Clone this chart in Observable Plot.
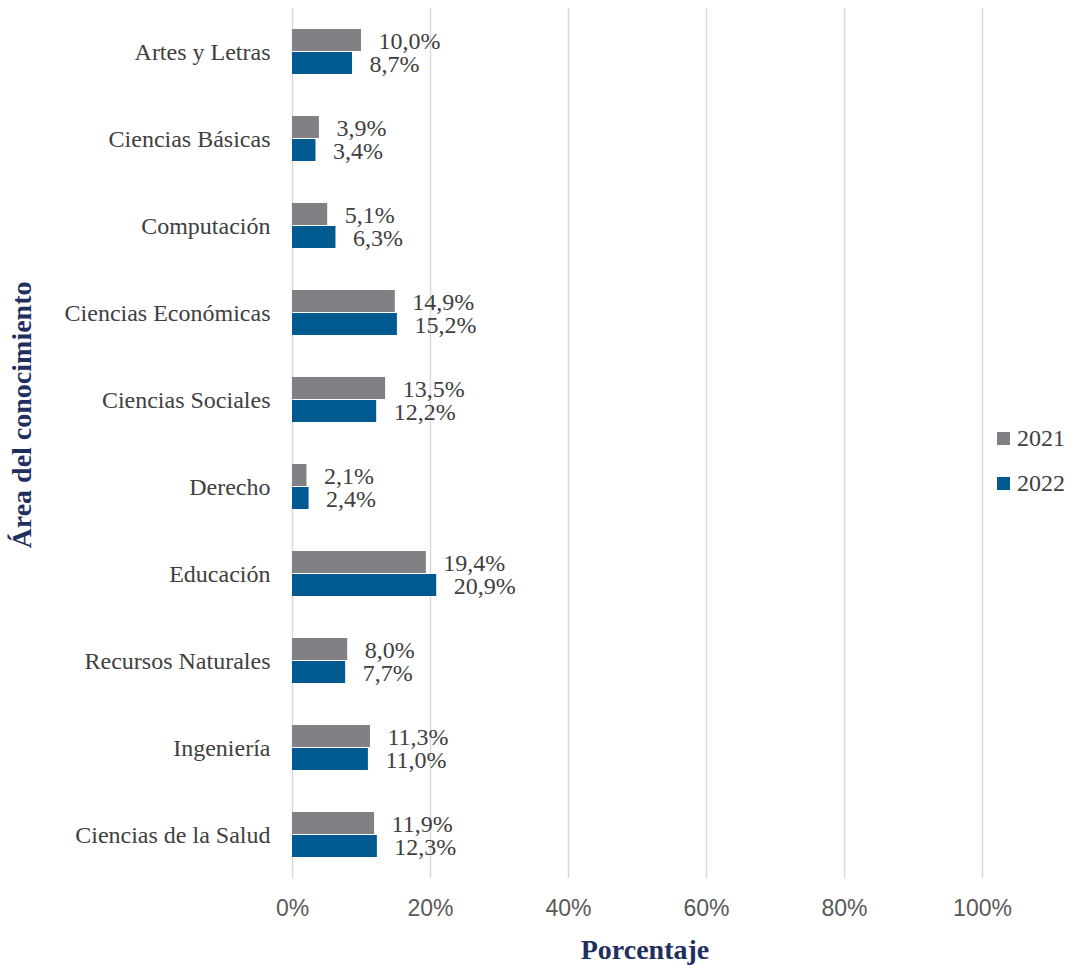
<!DOCTYPE html>
<html>
<head>
<meta charset="utf-8">
<script src="https://cdn.jsdelivr.net/npm/d3@7"></script>
<script src="https://cdn.jsdelivr.net/npm/@observablehq/plot@0.6"></script>
<style>
  html, body { margin: 0; padding: 0; background: #fff; }
</style>
</head>
<body>
<div id="chart"></div>
<script>
const categories = ["Artes y Letras", "Ciencias Básicas", "Computación", "Ciencias Económicas", "Ciencias Sociales", "Derecho", "Educación", "Recursos Naturales", "Ingeniería", "Ciencias de la Salud"];
const years = ["2021", "2022"];
const v2021 = [10.0, 3.9, 5.1, 14.9, 13.5, 2.1, 19.4, 8.0, 11.3, 11.9];
const v2022 = [8.7, 3.4, 6.3, 15.2, 12.2, 2.4, 20.9, 7.7, 11.0, 12.3];
const xTicks = [0, 20, 40, 60, 80, 100];
const colors = ["#808085", "#005a8f"];

const data = categories.flatMap((c, i) => [
  {cat: c, year: years[0], value: v2021[i]},
  {cat: c, year: years[1], value: v2022[i]}
]);
const fmt = v => v.toFixed(1).replace(".", ",") + "%";
const serif = "'Liberation Serif', 'DejaVu Serif', serif";
const sans = "'Liberation Sans', Arial, sans-serif";

const chart = Plot.plot({
  width: 1070,
  height: 965,
  marginTop: 8,
  marginBottom: 87,
  marginLeft: 292,
  marginRight: 88,
  style: {background: "#fff"},
  x: {domain: [0, 100]},
  fy: {domain: categories, padding: 0},
  y: {domain: years, paddingInner: 0.03, paddingOuter: 0.88, axis: null},
  color: {domain: years, range: colors},
  marks: [
    Plot.gridX(xTicks, {stroke: "#d9d9d9", strokeOpacity: 1, strokeWidth: 1.5}),
    Plot.barX(data, {x: "value", y: "year", fy: "cat", fill: "year"}),
    Plot.text(data, {x: "value", y: "year", fy: "cat", text: d => fmt(d.value), textAnchor: "start", dx: 17, dy: 1, fill: "#404040", fontSize: 24, fontFamily: serif}),
    Plot.axisX({ticks: xTicks, tickFormat: d => d + "%", tickSize: 0, tickPadding: 21, fontSize: 23, fontFamily: sans, color: "#595959", label: null}),
    Plot.axisFy({anchor: "left", tickSize: 0, tickPadding: 22, fontSize: 24, fontFamily: serif, color: "#404040", label: null})
  ]
});

document.getElementById("chart").appendChild(chart);

const svg = d3.select(chart);
const color = chart.scale("color");
// axis titles
svg.append("text")
  .attr("x", 645).attr("y", 959)
  .attr("text-anchor", "middle")
  .attr("font-family", serif).attr("font-weight", "bold").attr("font-size", 28)
  .attr("fill", "#1f2f5f")
  .text("Porcentaje");
svg.append("text")
  .attr("transform", "translate(31,415) rotate(-90)")
  .attr("text-anchor", "middle")
  .attr("font-family", serif).attr("font-weight", "bold").attr("font-size", 28)
  .attr("fill", "#1f2f5f")
  .text("Área del conocimiento");
// legend
const leg = svg.append("g");
years.forEach((y, i) => {
  const g = leg.append("g").attr("transform", `translate(997,${432 + i * 45})`);
  g.append("rect").attr("width", 13).attr("height", 13).attr("fill", color.apply(y));
  g.append("text").attr("x", 20).attr("y", 14)
    .attr("text-anchor", "start")
    .attr("font-family", serif).attr("font-size", 24).attr("fill", "#404040")
    .text(y);
});
</script>
</body>
</html>
